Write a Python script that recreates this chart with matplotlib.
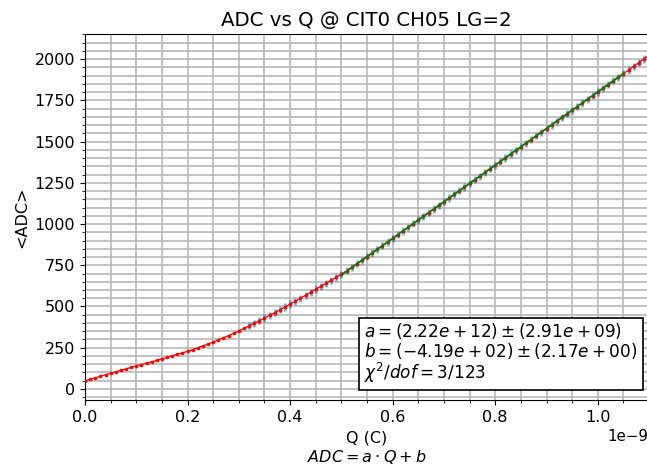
import numpy as np
import matplotlib
matplotlib.use('Agg')
import matplotlib.pyplot as plt
from matplotlib.ticker import AutoMinorLocator

# charge injected (nC) and mean ADC
q_nc = [0.00, 0.01, 0.02, 0.03, 0.04, 0.05, 0.06, 0.07, 0.08, 0.09,
        0.10, 0.11, 0.12, 0.13, 0.14, 0.15, 0.16, 0.17, 0.18, 0.19,
        0.20, 0.21, 0.22, 0.23, 0.24, 0.25, 0.26, 0.27, 0.28, 0.29,
        0.30, 0.31, 0.32, 0.33, 0.34, 0.35, 0.36, 0.37, 0.38, 0.39,
        0.40, 0.41, 0.42, 0.43, 0.44, 0.45, 0.46, 0.47, 0.48, 0.49,
        0.50, 0.51, 0.52, 0.53, 0.54, 0.55, 0.56, 0.57, 0.58, 0.59,
        0.60, 0.61, 0.62, 0.63, 0.64, 0.65, 0.66, 0.67, 0.68, 0.69,
        0.70, 0.71, 0.72, 0.73, 0.74, 0.75, 0.76, 0.77, 0.78, 0.79,
        0.80, 0.81, 0.82, 0.83, 0.84, 0.85, 0.86, 0.87, 0.88, 0.89,
        0.90, 0.91, 0.92, 0.93, 0.94, 0.95, 0.96, 0.97, 0.98, 0.99,
        1.00, 1.01, 1.02, 1.03, 1.04, 1.05, 1.06, 1.07, 1.08, 1.09, 1.10]
adc = [50, 59, 68, 77, 86, 95, 104, 113, 122, 131,
       140, 148, 157, 165, 174, 183, 192, 201, 210, 219,
       228, 239, 250, 261, 273, 285, 298, 311, 324, 338,
       352, 367, 383, 398, 414, 430, 447, 463, 480, 497,
       515, 532, 550, 568, 586, 605, 623, 641, 659, 677,
       696, 716, 738, 759, 781, 803, 825, 847, 869, 891,
       913, 935, 957, 980, 1002, 1024, 1046, 1068, 1091, 1113,
       1135, 1157, 1179, 1202, 1224, 1246, 1268, 1290, 1313, 1335,
       1357, 1379, 1401, 1424, 1446, 1468, 1490, 1512, 1535, 1557,
       1579, 1601, 1623, 1646, 1668, 1690, 1712, 1734, 1757, 1779,
       1801, 1823, 1845, 1868, 1890, 1912, 1934, 1956, 1979, 2001, 2023]
adc_err = 22          # error bar half-size
err_start = 0.32      # error bars shown from here (nC)

# fit result
fit_a = 2.22e12
fit_b = -4.19e2
fit_lo, fit_hi = 0.50, 1.05   # nC

plt.rcParams['font.size'] = 11.5

q = np.array(q_nc) * 1e-9
adc = np.array(adc, dtype=float)

fig = plt.figure(figsize=(6.47, 4.71), dpi=100)
ax = fig.add_axes([0.1314, 0.1507, 0.8702, 0.7771])

m = np.array(q_nc) >= err_start
ax.errorbar(q[m], adc[m], yerr=adc_err, fmt='none', ecolor='#1f77b4',
            elinewidth=2.0, alpha=0.55, zorder=2)
ax.errorbar(q[m], adc[m], yerr=adc_err * 0.6, fmt='none', ecolor='#1f77b4',
            elinewidth=0.8, alpha=0.9, zorder=2)
ax.plot(q, adc, 'o', color='red', ms=1.6, zorder=3)
ax.plot(q, adc, '-', color='red', lw=0.9, zorder=3)

mf = (np.array(q_nc) >= fit_lo) & (np.array(q_nc) <= fit_hi)
ax.plot(q[mf], fit_a * q[mf] + fit_b, '-', color='green', lw=1.3, zorder=4)

ax.set_xlim(0, 1.098e-9)
ax.set_ylim(-67, 2152)
ax.set_yticks(np.arange(0, 2001, 250))
ax.set_xticks(np.arange(0, 1.01e-9, 0.2e-9))
ax.xaxis.set_minor_locator(AutoMinorLocator(4))
ax.yaxis.set_minor_locator(AutoMinorLocator(5))
ax.grid(True, which='both', color='#b8b8b8', lw=1.2)
ax.set_axisbelow(True)
ax.xaxis.get_offset_text().set_fontsize(10.8)

ax.set_title('ADC vs Q @ CIT0 CH05 LG=2', fontsize=14.2)
ax.set_xlabel('Q (C)\n' + r'$ADC = a \cdot Q + b$')
ax.set_ylabel('<ADC>')

txt = (r'$a = (2.22e+12) \pm (2.91e+09)$' + '\n' +
       r'$b = (-4.19e+02) \pm (2.17e+00)$' + '\n' +
       r'$\chi^2/dof = 3/123$')
ax.text(0.496, 0.04, txt, transform=ax.transAxes, ha='left', va='bottom',
        multialignment='left', linespacing=1.0, fontsize=12.2,
        bbox=dict(boxstyle='square,pad=0.3', fc='white', ec='black', lw=1.2),
        zorder=5)

fig.savefig('out.png', dpi=100)
